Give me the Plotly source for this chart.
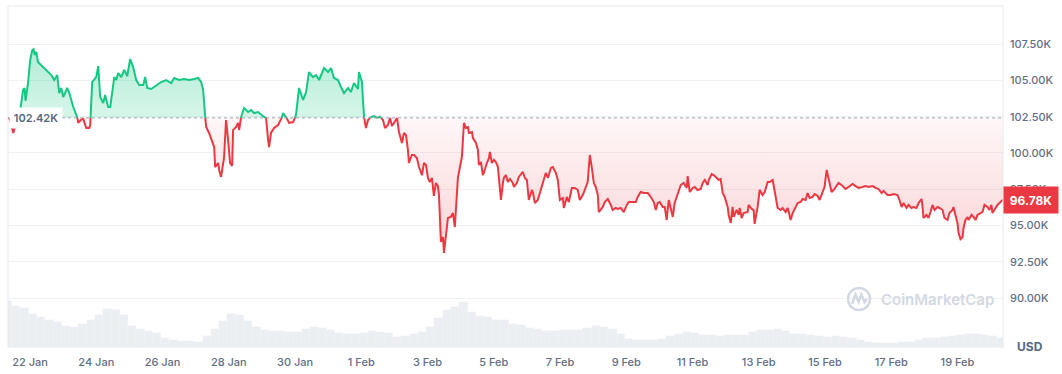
import numpy as np
import pandas as pd
import plotly.graph_objects as go

# ---------------- data ----------------
START = "2025-01-21 08:00"          # first sample time
X_END_HOURS = 721                    # axis end (hours after START)

hours = [
    0, 1.5, 3.8, 6.0, 8.2, 9.6, 10.9, 12.0, 12.7, 14.5,
    16.1, 17.6, 18.5, 19.5, 20.5, 21.7, 25.6, 27.7, 31.4, 33.5,
    35.7, 37.1, 38.6, 40.0, 42.9, 44.4, 47.3, 50.2, 50.9, 53.1,
    54.5, 56.7, 58.9, 59.6, 61.0, 63.9, 65.4, 66.8, 69.0, 70.4,
    72.6, 74.1, 77.0, 78.4, 79.9, 82.0, 84.2, 86.4, 88.5, 90.7,
    92.9, 95.1, 98.0, 99.4, 100.9, 103.8, 107.4, 111.0, 114.6, 118.2,
    120.4, 124.0, 127.6, 131.3, 134.9, 137.8, 140.0, 141.4, 142.9, 143.6,
    145.7, 147.2, 149.4, 150.1, 152.3, 153.0, 154.4, 156.6, 158.0, 159.5,
    160.9, 162.4, 163.1, 165.3, 166.7, 167.5, 168.9, 171.1, 174.0, 176.2,
    178.3, 181.2, 183.4, 185.6, 187.0, 188.5, 189.2, 190.6, 192.8, 195.7,
    197.9, 199.3, 201.5, 203.7, 206.6, 208.7, 210.9, 213.8, 216.0, 218.1,
    221.0, 223.2, 225.4, 229.0, 231.9, 234.1, 236.2, 239.1, 241.3, 243.5,
    246.4, 248.5, 250.7, 253.6, 254.3, 256.5, 257.2, 258.0, 259.4, 260.9,
    263.0, 265.2, 267.4, 269.6, 271.7, 273.2, 275.3, 276.8, 278.2, 279.7,
    281.9, 283.3, 285.5, 286.9, 288.4, 289.8, 290.5, 292.7, 294.2, 296.3,
    297.8, 300.0, 301.4, 302.9, 304.3, 305.7, 307.2, 308.6, 310.1, 311.5,
    312.3, 313.7, 315.2, 315.9, 317.3, 318.8, 320.9, 322.4, 323.8, 326.0,
    327.5, 328.9, 330.4, 331.8, 333.3, 334.0, 336.2, 336.9, 339.1, 340.5,
    341.2, 342.7, 344.1, 344.8, 347.0, 348.5, 349.2, 350.6, 352.1, 353.5,
    355.0, 356.4, 357.2, 358.6, 359.3, 360.8, 362.2, 363.7, 365.8, 366.6,
    368.7, 370.2, 373.1, 374.5, 376.0, 377.4, 379.6, 380.3, 381.8, 383.9,
    386.1, 387.6, 389.7, 391.2, 393.4, 394.8, 397.0, 398.4, 399.9, 402.0,
    402.8, 404.9, 406.4, 408.6, 410.7, 412.9, 414.3, 416.5, 418.0, 420.1,
    420.9, 421.6, 423.0, 424.5, 425.9, 427.4, 428.1, 431.0, 432.4, 434.6,
    436.8, 438.2, 440.4, 441.9, 444.0, 446.2, 448.4, 449.8, 452.7, 454.9,
    456.3, 458.5, 460.7, 463.6, 465.8, 468.0, 469.4, 470.8, 472.3, 474.4,
    475.9, 477.3, 478.8, 481.7, 483.1, 485.3, 487.5, 489.6, 491.8, 492.5,
    494.0, 496.2, 497.6, 499.8, 502.0, 503.4, 504.9, 507.0, 507.8, 509.9,
    511.4, 513.6, 515.0, 516.4, 517.9, 519.3, 521.5, 522.2, 523.7, 525.1,
    525.8, 528.0, 529.5, 530.2, 531.6, 533.1, 536.0, 536.7, 538.9, 540.3,
    541.0, 543.2, 544.7, 546.8, 548.3, 550.5, 551.9, 554.1, 554.8, 556.3,
    557.7, 559.9, 561.3, 563.5, 565.0, 567.1, 568.6, 570.7, 572.2, 574.4,
    575.8, 578.0, 579.4, 580.9, 583.0, 584.5, 586.7, 588.1, 590.3, 591.7,
    593.2, 594.6, 596.8, 598.2, 600.4, 601.9, 604.8, 606.9, 609.1, 612.0,
    614.2, 616.3, 619.2, 621.4, 623.6, 626.5, 628.7, 630.8, 633.0, 634.4,
    637.3, 639.5, 641.7, 644.6, 646.0, 647.5, 648.9, 651.1, 652.5, 654.7,
    656.2, 658.3, 659.8, 662.0, 662.7, 663.4, 665.6, 667.0, 668.5, 669.9,
    671.4, 673.5, 675.0, 677.2, 678.6, 680.8, 682.2, 684.4, 685.1, 686.6,
    688.0, 688.8, 690.2, 691.7, 692.4, 693.8, 695.3, 696.0, 698.2, 699.6,
    701.1, 702.5, 704.7, 706.1, 707.6, 709.7, 711.2, 712.6, 713.4, 715.5,
    717.0, 719.2, 721.0,
]

prices_k = [
    102.42, 102.30, 101.38, 102.13, 102.48, 103.44, 104.34, 104.48, 103.60, 104.82,
    106.41, 107.10, 107.16, 106.75, 106.96, 106.27, 105.92, 105.72, 105.37, 105.03,
    105.37, 104.13, 104.48, 103.86, 104.48, 104.13, 103.17, 102.45, 102.07, 102.30,
    102.35, 101.72, 101.72, 101.93, 104.89, 105.23, 105.99, 103.86, 103.44, 103.99,
    103.17, 103.17, 105.23, 105.03, 105.51, 105.23, 105.72, 105.30, 106.47, 105.92,
    105.03, 104.68, 104.68, 105.23, 104.48, 104.41, 104.68, 104.89, 105.03, 104.82,
    105.17, 105.03, 105.10, 105.03, 105.10, 105.17, 104.89, 104.34, 102.48, 101.79,
    101.38, 101.03, 100.41, 99.03, 99.31, 98.83, 98.35, 99.72, 102.27, 100.89,
    99.31, 99.10, 101.58, 101.79, 102.07, 101.58, 102.48, 103.10, 102.82, 102.96,
    102.75, 102.82, 102.62, 102.48, 102.41, 100.89, 100.41, 101.38, 101.72, 101.93,
    102.27, 102.75, 102.48, 102.07, 102.13, 102.62, 104.48, 103.65, 104.20, 105.58,
    105.23, 105.37, 105.03, 105.85, 105.58, 105.85, 105.17, 105.03, 104.55, 104.13,
    104.48, 104.20, 104.82, 104.41, 105.58, 104.89, 103.65, 102.48, 101.72, 102.27,
    102.48, 102.55, 102.41, 102.50, 102.27, 101.72, 101.93, 102.41, 101.86, 102.07,
    102.41, 101.45, 100.69, 101.38, 101.24, 100.21, 99.31, 99.86, 99.86, 99.65,
    99.03, 98.48, 99.31, 99.17, 98.28, 98.00, 98.28, 97.04, 97.93, 97.72,
    97.10, 93.87, 94.21, 93.11, 94.21, 95.52, 95.59, 95.86, 94.90, 98.28,
    99.03, 99.72, 102.07, 101.72, 101.79, 101.38, 101.45, 101.03, 100.69, 100.21,
    99.17, 99.38, 98.48, 98.62, 99.31, 99.65, 100.07, 99.31, 99.52, 99.38,
    99.03, 97.79, 96.76, 97.93, 98.28, 98.48, 98.00, 98.21, 97.93, 97.66,
    97.93, 98.35, 98.69, 98.28, 98.14, 96.76, 97.45, 97.31, 96.55, 96.76,
    97.45, 97.79, 98.62, 98.28, 98.97, 99.03, 98.62, 98.14, 96.76, 96.90,
    96.21, 96.97, 96.62, 97.59, 97.59, 97.45, 96.76, 97.10, 97.45, 98.00,
    99.03, 99.86, 99.03, 97.93, 97.66, 97.10, 95.93, 96.28, 96.62, 96.83,
    96.42, 96.07, 96.21, 96.14, 96.21, 95.93, 96.42, 96.62, 96.62, 96.62,
    96.97, 97.31, 97.24, 97.24, 96.97, 96.62, 96.07, 96.55, 96.62, 96.28,
    96.28, 95.38, 96.76, 95.59, 96.55, 97.24, 97.79, 97.93, 97.59, 98.41,
    97.31, 97.59, 97.66, 97.45, 97.52, 97.93, 98.14, 97.79, 98.14, 98.55,
    98.48, 98.28, 98.14, 98.21, 97.24, 96.97, 96.28, 95.73, 95.17, 96.28,
    95.59, 96.07, 95.73, 96.21, 95.52, 95.86, 95.93, 96.42, 96.14, 96.07,
    95.11, 96.28, 97.45, 97.10, 97.31, 98.00, 98.00, 98.14, 97.66, 96.97,
    96.21, 96.07, 96.21, 95.93, 96.21, 95.38, 95.86, 96.21, 96.55, 96.62,
    96.83, 96.76, 97.24, 96.90, 96.97, 97.17, 97.04, 96.76, 97.24, 97.66,
    98.83, 98.28, 97.31, 97.45, 97.79, 97.93, 97.72, 97.52, 97.66, 97.86,
    97.72, 97.59, 97.66, 97.72, 97.66, 97.72, 97.59, 97.52, 97.24, 97.38,
    97.10, 97.10, 97.17, 97.10, 96.76, 96.28, 96.55, 96.21, 96.42, 96.21,
    96.28, 96.21, 96.55, 96.83, 96.28, 95.52, 95.73, 95.52, 95.93, 96.42,
    96.07, 96.28, 96.21, 96.07, 95.52, 95.38, 95.86, 96.07, 96.28, 95.73,
    95.17, 94.49, 94.07, 94.21, 94.83, 95.38, 95.59, 95.38, 95.73, 95.59,
    95.38, 95.73, 95.86, 95.93, 96.42, 96.28, 96.07, 96.42, 95.86, 96.21,
    96.42, 96.62, 96.78,
]

VOLUME_STEP_HOURS = 6
volume_b = [
    47, 42, 40, 34, 31, 28, 26, 22, 21, 24,
    28, 33, 39, 38, 33, 22, 19, 17, 15, 10,
    8, 7, 7, 6, 12, 19, 27, 34, 33, 27,
    21, 18, 17, 17, 16, 16, 19, 21, 20, 18,
    15, 14, 14, 15, 17, 16, 15, 11, 12, 14,
    16, 21, 30, 38, 41, 46, 36, 32, 31, 28,
    28, 24, 23, 20, 19, 17, 17, 18, 18, 18,
    20, 22, 21, 19, 14, 9, 8, 8, 8, 9,
    12, 14, 16, 15, 13, 13, 12, 13, 13, 13,
    16, 18, 18, 19, 17, 14, 14, 13, 12, 11,
    12, 11, 10, 8, 6, 5, 5, 5, 6, 6,
    8, 10, 10, 11, 12, 13, 14, 14, 13, 12,
    10,
]

y_tickvals = [90.0, 92.5, 95.0, 97.5, 100.0, 102.5, 105.0, 107.5]
X_TICK_START = "2025-01-22"
X_TICK_DAYS = 2

assert len(hours) == len(prices_k), (len(hours), len(prices_k))

# ---------------- styles ----------------
GREEN = "#16c784"
RED = "#ea3943"
GRID = "#eff2f5"
TEXT = "#616e85"
FONT = "Inter, Noto Sans, sans-serif"

base = prices_k[0]
start = pd.Timestamp(START)

# insert the crossing points of the baseline so the two colours meet exactly
h_all, p_all = [], []
for i, (h, p) in enumerate(zip(hours, prices_k)):
    if i > 0:
        h0, p0 = hours[i - 1], prices_k[i - 1]
        if (p0 - base) * (p - base) < 0:
            f = (base - p0) / (p - p0)
            h_all.append(h0 + f * (h - h0))
            p_all.append(base)
    h_all.append(h)
    p_all.append(p)

t_all = start + pd.to_timedelta(np.array(h_all), unit="h")
p_arr = np.array(p_all)
green_line = np.where(p_arr >= base, p_arr, np.nan)
red_line = np.where(p_arr <= base, p_arr, np.nan)
upper = np.maximum(p_arr, base)
lower = np.minimum(p_arr, base)
base_arr = np.full_like(p_arr, base)

vol_t = start + pd.to_timedelta(np.arange(len(volume_b)) * VOLUME_STEP_HOURS, unit="h")

fig = go.Figure()

fig.add_trace(go.Bar(
    x=vol_t, y=volume_b, yaxis="y2",
    width=VOLUME_STEP_HOURS * 3600 * 1000,
    marker=dict(color="rgba(200,207,220,0.36)",
                line=dict(width=0.5, color="rgba(255,255,255,0.35)")),
    hoverinfo="skip", showlegend=False,
))

nol = dict(width=0, color="rgba(0,0,0,0)")
fig.add_trace(go.Scatter(x=t_all, y=base_arr, mode="lines", line=nol,
                         hoverinfo="skip", showlegend=False))
fig.add_trace(go.Scatter(
    x=t_all, y=upper, mode="lines", line=nol, fill="tonexty",
    fillgradient=dict(type="vertical", start=base, stop=107.5,
                      colorscale=[[0, "rgba(22,199,132,0.17)"], [1, "rgba(22,199,132,0.34)"]]),
    hoverinfo="skip", showlegend=False))
fig.add_trace(go.Scatter(x=t_all, y=base_arr, mode="lines", line=nol,
                         hoverinfo="skip", showlegend=False))
fig.add_trace(go.Scatter(
    x=t_all, y=lower, mode="lines", line=nol, fill="tonexty",
    fillgradient=dict(type="vertical", start=93.0, stop=base,
                      colorscale=[[0, "rgba(234,57,67,0.22)"], [1, "rgba(234,57,67,0.04)"]]),
    hoverinfo="skip", showlegend=False))

fig.add_trace(go.Scatter(x=t_all, y=green_line, mode="lines",
                         line=dict(color=GREEN, width=2), connectgaps=False,
                         hoverinfo="skip", showlegend=False))
fig.add_trace(go.Scatter(x=t_all, y=red_line, mode="lines",
                         line=dict(color=RED, width=2), connectgaps=False,
                         hoverinfo="skip", showlegend=False))

W, H = 1062, 374
ML, MR, MT, MB = 8, 59, 6, 26
PW, PH = W - ML - MR, H - MT - MB


def px(x, y):
    """pixel position -> paper coords (for decorations only)"""
    return (x - ML) / PW, (H - MB - y) / PH


shapes = [
    dict(type="line", xref="paper", yref="paper", x0=0, x1=1, y0=1, y1=1,
         line=dict(color="#e6e9ee", width=1)),
    dict(type="line", xref="paper", yref="paper", x0=0, x1=0, y0=0, y1=1,
         line=dict(color="#e6e9ee", width=1)),
    dict(type="line", xref="paper", yref="paper", x0=1, x1=1, y0=0, y1=1,
         line=dict(color="#e6e9ee", width=1)),
    dict(type="line", xref="paper", yref="y", x0=0, x1=1, y0=base, y1=base,
         line=dict(color="#9aa3b5", width=1, dash="dot")),
]

# watermark logo (circle + wave)
cx0, cy0 = px(848, 288)
cx1, cy1 = px(870, 310)
shapes.append(dict(type="circle", xref="paper", yref="paper",
                   x0=cx0, x1=cx1, y0=cy1, y1=cy0,
                   line=dict(color="#d3d9e4", width=2.5)))
wave_pts = [px(852, 304), px(855.5, 294.5), px(858.5, 302), px(861.5, 294.5),
            px(864.5, 302), px(867, 299)]
path = "M " + " L ".join(f"{a:.5f},{b:.5f}" for a, b in wave_pts)
shapes.append(dict(type="path", xref="paper", yref="paper", path=path,
                   line=dict(color="#d3d9e4", width=2.5)))

wx, wy = px(879, 299)
ux, uy = px(1030, 346)

annotations = [
    dict(xref="paper", yref="y", x=0, y=base, xanchor="left", yanchor="middle",
         text="102.42K", showarrow=False, bgcolor="white", borderpad=3,
         width=46, xshift=1,
         font=dict(family=FONT, size=11, color="#58667e", weight=600)),
    dict(xref="paper", yref="y", x=1, y=prices_k[-1], xanchor="left", yanchor="middle",
         text=f"{prices_k[-1]:.2f}K", showarrow=False, bgcolor=RED, borderpad=4,
         width=46, height=18,
         font=dict(family=FONT, size=12, color="white", weight=700)),
    dict(xref="paper", yref="paper", x=wx, y=wy, xanchor="left", yanchor="middle",
         text="CoinMarketCap", showarrow=False,
         font=dict(family=FONT, size=15, color="#d3d9e4", weight=600)),
    dict(xref="paper", yref="paper", x=ux, y=uy, xanchor="center", yanchor="middle",
         text="USD", showarrow=False,
         font=dict(family=FONT, size=12, color="#58667e", weight=700)),
]

fig.update_layout(
    width=W, height=H,
    margin=dict(l=ML, r=MR, t=MT, b=MB),
    paper_bgcolor="white", plot_bgcolor="white",
    showlegend=False, hovermode=False,
    bargap=0,
    font=dict(family=FONT, color=TEXT, size=11),
    xaxis=dict(
        type="date",
        range=[start, start + pd.Timedelta(hours=X_END_HOURS)],
        tick0=X_TICK_START, dtick=X_TICK_DAYS * 86400000, tickformat="%-d %b",
        showgrid=False, zeroline=False, showline=False, ticks="",
        ticklabelstandoff=6,
        tickfont=dict(family=FONT, size=11, color=TEXT, weight=500),
        fixedrange=True,
    ),
    yaxis=dict(
        side="right", range=[86.56, 110.13],
        tickvals=y_tickvals, ticktext=[f"{v:.2f}K" for v in y_tickvals],
        showgrid=True, gridcolor=GRID, gridwidth=1,
        zeroline=False, showline=False, ticks="",
        ticklabelstandoff=6,
        tickfont=dict(family=FONT, size=11, color=TEXT, weight=500),
        fixedrange=True,
    ),
    yaxis2=dict(overlaying="y", range=[0, PH], visible=False, fixedrange=True),
    shapes=shapes,
    annotations=annotations,
)

fig.write_html(
    "out.html",
    config={"displayModeBar": False},
    post_script="document.body.style.margin='0';document.body.style.overflow='hidden';",
)
